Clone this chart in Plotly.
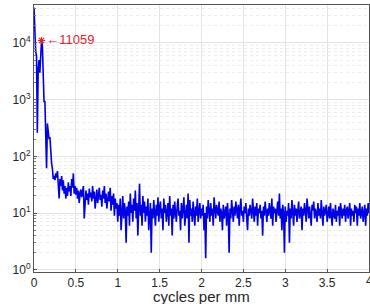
import plotly.graph_objects as go

# spectrum values sampled every 0.01 cycles/mm from 0 to 4.00
freq_step = 0.01
amplitude = [
    42000, 15000, 7000, 6000, 260, 3500, 5000, 3000, 7000, 11059,
    9000, 4000, 900, 950, 300, 62, 380, 300, 200, 220,
    90, 75, 60, 40, 45, 38, 50, 42, 55, 35,
    18, 40, 30, 45, 25, 38, 22, 30, 18, 28,
    20, 35, 24, 30, 20, 40, 28, 50, 22, 30,
    21, 28, 18, 25, 15, 22, 26, 19, 24, 30,
    8, 20, 25, 17, 22, 14, 27, 19, 23, 16,
    30, 18, 24, 12, 20, 26, 15, 22, 28, 17,
    21, 13, 25, 18, 30, 15, 22, 12, 19, 24,
    16, 28, 11, 20, 14, 22, 9, 18, 12, 15,
    7, 14, 9, 18, 5, 12, 20, 8, 15, 11,
    3, 13, 9, 16, 6, 22, 10, 14, 7, 18,
    11, 25, 8, 15, 4, 12, 33, 9, 14, 6,
    20, 10, 16, 7, 13, 9, 18, 5, 11, 15,
    2, 12, 8, 17, 10, 6, 14, 9, 19, 7,
    13, 16, 8, 12, 5, 18, 10, 14, 7, 11,
    15, 6, 20, 9, 12, 4, 14, 8, 16, 10,
    7, 13, 18, 9, 11, 5, 15, 8, 12, 19,
    6, 10, 14, 8, 22, 3, 17, 9, 12, 7,
    16, 10, 6, 13, 9, 18, 7, 11, 15, 8,
    12, 9, 14, 5, 10, 1.6, 13, 8, 17, 11,
    7, 15, 9, 12, 6, 19, 10, 8, 14, 11,
    9, 16, 7, 12, 10, 5, 14, 8, 11, 13,
    6, 15, 9, 2, 12, 8, 17, 10, 7, 13,
    9, 16, 11, 8, 14, 6, 12, 18, 9, 11,
    7, 13, 10, 15, 8, 5, 12, 9, 14, 10,
    8, 18, 11, 7, 13, 9, 15, 6, 12, 10,
    14, 8, 11, 4, 13, 9, 16, 10, 7, 12,
    9, 15, 11, 8, 18, 6, 13, 10, 12, 7,
    11, 16, 9, 22, 8, 12, 5, 14, 10, 2,
    13, 7, 11, 9, 15, 3, 12, 8, 17, 10,
    6, 14, 9, 12, 7, 11, 16, 8, 10, 13,
    5, 12, 9, 15, 11, 7, 18, 10, 8, 13,
    9, 6, 14, 11, 16, 8, 12, 10, 7, 15,
    9, 12, 8, 17, 10, 6, 13, 9, 11, 14,
    7, 10, 13, 8, 15, 9, 6, 12, 10, 8,
    14, 7, 11, 9, 13, 6, 15, 10, 8, 12,
    9, 14, 7, 11, 13, 8, 10, 15, 6, 12,
    9, 11, 7, 14, 10, 13, 6, 12, 9, 15,
    8, 11, 13, 7, 10, 14, 6, 12, 9, 15,
    10,
]
freq = [round(i * freq_step, 2) for i in range(len(amplitude))]

peak_freq = 0.09
peak_value = 11059
peak_label = "\u219011059"
x_title = "cycles per mm"

y_tick_vals = [1, 10, 100, 1000, 10000]
y_tick_text = ["10<sup>0</sup>", "10<sup>1</sup>", "10<sup>2</sup>", "10<sup>3</sup>", "10<sup>4</sup>"]
y_minor_vals = [k * 10 ** d for d in range(0, 5) for k in range(2, 10)]
x_tick_vals = [0, 0.5, 1, 1.5, 2, 2.5, 3, 3.5]
x_tick_text = ["0", "0.5", "1", "1.5", "2", "2.5", "3", "3.5"]
x_last_tick = 4
x_last_text = "4"

fig = go.Figure()
fig.add_trace(go.Scatter(x=freq, y=amplitude, mode="lines",
                         line=dict(color="#0000e6", width=1.6), showlegend=False))
fig.add_trace(go.Scatter(x=[peak_freq], y=[peak_value], mode="markers+text",
                         marker=dict(color="#e8202a", size=6, symbol="asterisk-open",
                                     line=dict(color="#e8202a", width=1.2)),
                         text=[peak_label], textposition="middle right",
                         textfont=dict(color="#e8202a", size=13, family="Liberation Sans, Arial"),
                         showlegend=False, cliponaxis=False))

fig.add_annotation(text=x_title, xref="paper", yref="paper", x=0.5, y=0,
                   xanchor="center", yanchor="middle", yshift=-24, showarrow=False,
                   font=dict(size=15, family="Liberation Sans, Arial", color="#262626"))
fig.add_annotation(text=x_last_text, xref="x", yref="paper", x=x_last_tick, y=0,
                   xanchor="center", yanchor="middle", yshift=-9, showarrow=False,
                   font=dict(size=12, family="Liberation Sans, Arial", color="#262626"))

axis_font = dict(family="Liberation Sans, Arial", size=12, color="#262626")
fig.update_layout(
    width=370, height=304,
    margin=dict(l=34, r=1, t=5, b=32, autoexpand=False),
    paper_bgcolor="white", plot_bgcolor="white",
    font=axis_font,
)
fig.update_xaxes(
    range=[0, 4], tickvals=x_tick_vals, ticktext=x_tick_text,
    automargin=False,
    showgrid=True, gridcolor="#e3e3e3", gridwidth=1,
    showline=True, linecolor="#555", mirror=True, linewidth=1,
    ticks="inside", ticklen=3, tickcolor="#555",
    zeroline=False,
)
fig.update_yaxes(
    type="log", range=[-0.04, 4.67],
    automargin=False,
    tickvals=y_tick_vals, ticktext=y_tick_text,
    showgrid=True, gridcolor="#e3e3e3", gridwidth=1,
    minor=dict(tickvals=y_minor_vals, showgrid=True, gridcolor="#ececec", griddash="dot",
               ticks="inside", ticklen=2, tickcolor="#777"),
    showline=True, linecolor="#555", mirror=True, linewidth=1,
    ticks="inside", ticklen=3, tickcolor="#555",
    zeroline=False,
)

fig.write_html("out.html", config={"displayModeBar": False},
               post_script="document.body.style.margin='0';document.body.style.padding='0';")
